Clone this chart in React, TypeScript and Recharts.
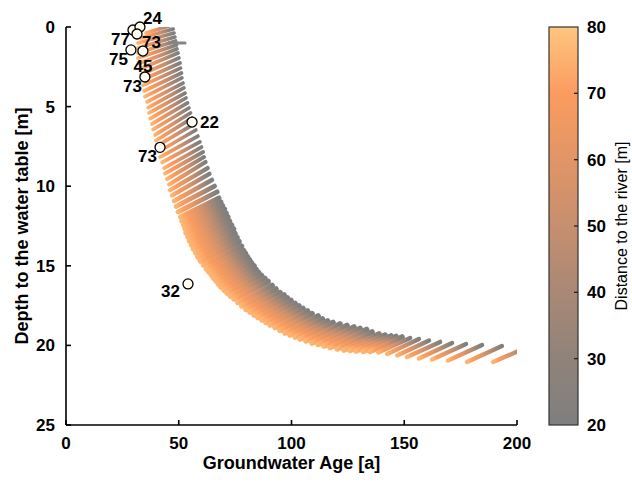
import React from 'react';
import { ComposedChart, Line, Scatter, XAxis, YAxis, Label } from 'recharts';

// each streak runs from the far end (80 m from the river) to the near end (20 m)
const farAge = [
  35.5, 33.3, 31.9, 31.9, 31.9, 31.9, 32.4, 32.8, 33.3, 33.7, 34.1, 34.6, 35.0, 35.9, 36.4, 36.8, 37.3,
  38.1, 38.6, 39.5, 39.9, 40.4, 41.2, 41.7, 42.6, 43.5, 43.9, 44.8, 45.7, 46.1, 47.0, 47.9, 48.8, 49.7,
  50.8, 51.4, 52.1, 52.8, 53.2, 54.1, 54.8, 55.7, 56.5, 57.6, 58.5, 59.6, 61.0, 62.3, 63.4, 64.5, 65.4,
  66.5, 67.6, 68.7, 70.1, 71.4, 72.9, 74.5, 76.3, 78.0, 79.8, 81.6, 83.4, 85.1, 86.9, 88.7, 90.5, 92.7,
  94.9, 97.1, 99.3, 101.6, 103.8, 106.4, 109.1, 111.8, 114.4, 117.1, 120.2, 123.3,
  125.9, 128.6, 131.7, 134.8, 138.4, 142.4, 146.8, 151.2, 156.5, 162.3, 169.4, 177.8, 189.4,
];
const farDepth = [
  0.38, 0.69, 1.0, 1.32, 1.63, 1.95, 2.29, 2.64, 2.98, 3.33, 3.67, 4.02, 4.37, 4.71, 5.06, 5.4, 5.75,
  6.09, 6.44, 6.78, 7.13, 7.47, 7.82, 8.17, 8.51, 8.86, 9.2, 9.55, 9.89, 10.24, 10.58, 10.93, 11.27, 11.62,
  11.93, 12.19, 12.44, 12.69, 12.94, 13.19, 13.44, 13.69, 13.94, 14.19, 14.45, 14.7, 14.95, 15.2, 15.39,
  15.58, 15.77, 15.95, 16.14, 16.33, 16.52, 16.71, 16.9, 17.08, 17.3, 17.52, 17.74, 17.9, 18.09, 18.25,
  18.4, 18.56, 18.72, 18.87, 19.06, 19.22, 19.35, 19.47, 19.6, 19.72, 19.85, 19.94, 20.04, 20.13, 20.22, 20.29,
  20.32, 20.35, 20.38, 20.38, 20.44, 20.54, 20.63, 20.73, 20.82, 20.88, 20.95, 21.04, 21.04,
];
const nearAge = [
  47.0, 47.5, 47.9, 48.3, 48.6, 49.0, 49.2, 49.7, 50.1, 50.6, 50.8, 51.2, 51.4, 51.9, 52.3, 52.8, 53.2,
  53.9, 54.5, 55.2, 55.9, 56.8, 57.6, 58.5, 59.4, 60.1, 60.8, 61.2, 61.9, 62.8, 63.6, 64.7, 65.9, 67.0,
  67.8, 68.7, 69.4, 70.3, 71.0, 71.8, 72.5, 73.4, 74.3, 74.9, 75.8, 76.7, 77.8, 78.7, 79.6, 80.5, 81.4,
  82.3, 83.4, 84.3, 85.4, 86.7, 88.2, 89.6, 91.4, 93.1, 94.9, 96.7, 98.2, 99.8, 101.6, 103.3, 105.1, 107.1,
  109.1, 111.8, 113.7, 116.0, 118.4, 121.5, 124.6, 127.7, 130.4, 133.3, 135.7, 138.8,
  141.5, 144.1, 146.3, 149.0, 152.6, 156.5, 161.0, 165.9, 171.2, 177.4, 184.5, 193.3, 204.9,
];
const nearDepth = [
  -0.13, 0.13, 0.38, 0.63, 0.88, 1.13, 1.38, 1.63, 1.95, 2.26, 2.58, 2.89, 3.2, 3.52, 3.83, 4.15, 4.46,
  4.77, 5.09, 5.4, 5.72, 6.09, 6.47, 6.85, 7.22, 7.54, 7.85, 8.17, 8.48, 8.86, 9.23, 9.61, 9.99, 10.36,
  10.74, 10.99, 11.21, 11.43, 11.68, 11.93, 12.19, 12.44, 12.69, 12.97, 13.22, 13.47, 13.76, 14.04, 14.23,
  14.45, 14.63, 14.82, 15.01, 15.23, 15.42, 15.61, 15.8, 15.98, 16.24, 16.46, 16.68, 16.83, 17.02, 17.18,
  17.37, 17.52, 17.68, 17.84, 18.0, 18.15, 18.34, 18.47, 18.56, 18.65, 18.75, 18.84, 18.94, 19.0, 19.16, 19.28,
  19.35, 19.41, 19.44, 19.47, 19.53, 19.6, 19.69, 19.78, 19.85, 19.91, 19.97, 20.04, 20.1,
];

// the short grey streak near 1 m
const strayAge = [45.7, 52.8];
const strayDepth = [1.0, 1.0];

// measured samples
const sampleAge = [29.7, 32.8, 31.5, 28.8, 34.1, 35.0, 55.9, 41.7, 54.1];
const sampleDepth = [0.19, 0.0, 0.44, 1.44, 1.51, 3.14, 5.97, 7.56, 16.14];
const sampleLabel = ['77', '24', '73', '75', '45', '73', '22', '73', '32'];
const sampleSide = ['below-left', 'above-right', 'below-right', 'below-left', 'below', 'below-left', 'right', 'below-left', 'left'];

const ageTicks = [0, 50, 100, 150, 200];
const depthTicks = [0, 5, 10, 15, 20, 25];
const distanceTicks = [20, 30, 40, 50, 60, 70, 80];
const distanceColors = ['#7f7f7f', '#908379', '#a98876', '#c68f6f', '#e19567', '#fb9c5f', '#fec67f'];

const FONT = '"Liberation Sans", Arial, sans-serif';

// colour along a streak, far end (left) to near end (right)
const streakStops = [
  { offset: 0, color: '#fdb572' },
  { offset: 0.18, color: '#fb9c5f' },
  { offset: 0.42, color: '#e19567' },
  { offset: 0.6, color: '#c68f6f' },
  { offset: 0.75, color: '#a98876' },
  { offset: 0.88, color: '#908379' },
  { offset: 1, color: '#7f7f7f' },
];

const sideOffset: Record<string, { dx: number; dy: number; anchor: 'start' | 'middle' | 'end' }> = {
  'below-left': { dx: -3, dy: 15, anchor: 'end' },
  'above-right': { dx: 3, dy: -3, anchor: 'start' },
  'below-right': { dx: 5, dy: 14, anchor: 'start' },
  below: { dx: 0, dy: 21, anchor: 'middle' },
  right: { dx: 8, dy: 6, anchor: 'start' },
  left: { dx: -8, dy: 13, anchor: 'end' },
};

const streaks = farAge.map((a, i) => [
  { age: a, depth: farDepth[i] },
  { age: nearAge[i], depth: nearDepth[i] },
]);
const stray = strayAge.map((a, i) => ({ age: a, depth: strayDepth[i] }));
const samples = sampleAge.map((a, i) => ({
  age: a,
  depth: sampleDepth[i],
  label: sampleLabel[i],
  side: sampleSide[i],
}));

const tickStyle = { fill: '#000', fontSize: 17, fontWeight: 700, fontFamily: FONT };
const lineStyle = { stroke: '#000', strokeWidth: 1.6 };

// thin, separated streaks at the top, merging into a solid band further down
const streakWidth = (i: number) => {
  if (i < 26) return 3.7;
  if (i < 34) return 3.7 + (i - 25) * 0.15;
  if (i < 42) return 5.0 + (i - 34) * 0.08;
  if (i < 84) return 5.6;
  return 4.4;
};

const SampleMark = (props: any) => {
  const { cx, cy, payload } = props;
  const o = sideOffset[payload.side];
  return (
    <g>
      <circle cx={cx} cy={cy} r={5} fill="#fffcf2" stroke="#000" strokeWidth={1.3} />
      <text
        x={cx + o.dx}
        y={cy + o.dy}
        textAnchor={o.anchor}
        fontSize={17}
        fontWeight={700}
        fontFamily={FONT}
        fill="#000"
      >
        {payload.label}
      </text>
    </g>
  );
};

const Colorbar = () => {
  const top = 27;
  const bottom = 425;
  const pos = (v: number) => bottom - ((v - 20) / 60) * (bottom - top);
  return (
    <svg width={632} height={489} style={{ position: 'absolute', left: 0, top: 0, pointerEvents: 'none' }}>
      <defs>
        <linearGradient id="cbar" x1="0" y1="1" x2="0" y2="0">
          {distanceColors.map((c, i) => (
            <stop key={i} offset={i / (distanceColors.length - 1)} stopColor={c} />
          ))}
        </linearGradient>
      </defs>
      <rect x={549} y={top} width={29} height={bottom - top} fill="url(#cbar)" stroke="#333" strokeWidth={1.2} />
      {distanceTicks.map((v) => (
        <g key={v}>
          {v > 20 && v < 80 && <line x1={578} x2={574} y1={pos(v)} y2={pos(v)} stroke="#222" strokeWidth={1.3} />}
          <text x={587} y={pos(v) + 6} fontSize={17} fontWeight={700} fontFamily={FONT} fill="#000">
            {v}
          </text>
        </g>
      ))}
      <text
        transform="translate(627,226) rotate(-90)"
        textAnchor="middle"
        fontSize={16}
        fontFamily={FONT}
        fill="#000"
      >
        Distance to the river [m]
      </text>
    </svg>
  );
};

export default function App() {
  return (
    <div style={{ position: 'absolute', left: 0, top: 0, width: 632, height: 489, background: '#fff' }}>
      <ComposedChart width={632} height={489} margin={{ top: 27, right: 115, bottom: 34, left: 6 }}>
        <defs>
          <linearGradient id="streak" x1="0" y1="0" x2="1" y2="0">
            {streakStops.map((s, i) => (
              <stop key={i} offset={s.offset} stopColor={s.color} />
            ))}
          </linearGradient>
        </defs>
        <XAxis
          type="number"
          dataKey="age"
          domain={[0, 200]}
          ticks={ageTicks}
          interval={0}
          allowDataOverflow
          height={30}
          tickSize={-5}
          tickMargin={17}
          axisLine={lineStyle}
          tickLine={lineStyle}
          tick={tickStyle}
        >
          <Label
            content={(p: any) => (
              <text
                x={p.viewBox.x + p.viewBox.width / 2}
                y={p.viewBox.y + 44}
                textAnchor="middle"
                fontSize={18}
                fontWeight={700}
                fontFamily={FONT}
                fill="#000"
              >
                Groundwater Age [a]
              </text>
            )}
          />
        </XAxis>
        <XAxis
          xAxisId="top"
          orientation="top"
          type="number"
          dataKey="age"
          domain={[0, 200]}
          ticks={ageTicks}
          interval={0}
          height={0}
          tickSize={-5}
          axisLine={lineStyle}
          tickLine={lineStyle}
          tick={false}
        />
        <YAxis
          type="number"
          dataKey="depth"
          domain={[0, 25]}
          ticks={depthTicks}
          interval={0}
          reversed
          allowDataOverflow
          width={60}
          tickSize={-5}
          tickMargin={16}
          axisLine={lineStyle}
          tickLine={lineStyle}
          tick={tickStyle}
        >
          <Label
            content={(p: any) => (
              <text
                transform={`translate(28,${p.viewBox.y + p.viewBox.height / 2}) rotate(-90)`}
                textAnchor="middle"
                fontSize={18}
                fontWeight={700}
                fontFamily={FONT}
                fill="#000"
              >
                Depth to the water table [m]
              </text>
            )}
          />
        </YAxis>
        <YAxis
          yAxisId="right"
          orientation="right"
          type="number"
          dataKey="depth"
          domain={[0, 25]}
          ticks={depthTicks}
          interval={0}
          reversed
          width={0}
          tickSize={-5}
          axisLine={lineStyle}
          tickLine={lineStyle}
          tick={false}
        />
        {streaks.map((d, i) => (
          <Line
            key={i}
            data={d}
            dataKey="depth"
            type="linear"
            stroke="url(#streak)"
            strokeWidth={streakWidth(i)}
            strokeLinecap="round"
            dot={false}
            activeDot={false}
            isAnimationActive={false}
          />
        ))}
        <Line
          data={stray}
          dataKey="depth"
          type="linear"
          stroke="#858585"
          strokeWidth={3}
          strokeLinecap="round"
          dot={false}
          activeDot={false}
          isAnimationActive={false}
        />
        <Scatter
          xAxisId="top"
          yAxisId="right"
          data={samples}
          dataKey="depth"
          shape={SampleMark}
          isAnimationActive={false}
        />
      </ComposedChart>
      <Colorbar />
    </div>
  );
}
